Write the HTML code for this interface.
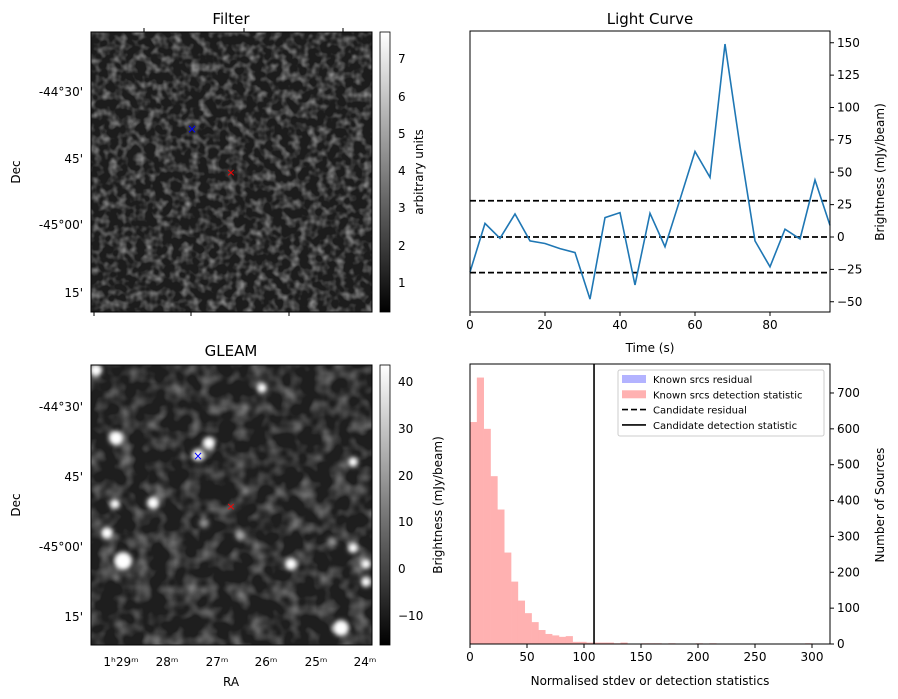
<!DOCTYPE html>
<html><head><meta charset="utf-8"><style>
body{margin:0;background:#fff;}
svg{display:block;font-family:"DejaVu Sans","Liberation Sans",sans-serif;}
</style></head><body>
<svg id="fig" width="898" height="699" viewBox="0 0 898 699">
<defs>
<filter id="noise1" x="0" y="0" width="100%" height="100%">
<feTurbulence type="fractalNoise" baseFrequency="0.11" numOctaves="2" seed="3"/>
<feColorMatrix type="matrix" values="0 0 0 0 1  0 0 0 0 1  0 0 0 0 1  1.0 0 0 0 -0.42"/>
</filter>
<filter id="noise2" x="0" y="0" width="100%" height="100%">
<feTurbulence type="fractalNoise" baseFrequency="0.06" numOctaves="2" seed="8"/>
<feColorMatrix type="matrix" values="0 0 0 0 1  0 0 0 0 1  0 0 0 0 1  0.85 0 0 0 -0.36"/>
</filter>
<filter id="blur"><feGaussianBlur stdDeviation="2.5"/></filter>
<linearGradient id="gray" x1="0" y1="1" x2="0" y2="0"><stop offset="0" stop-color="#000"/><stop offset="1" stop-color="#fff"/></linearGradient>
<clipPath id="c2"><rect x="91" y="365" width="281" height="280"/></clipPath>
</defs>

<g>
<text x="231" y="24" font-size="15" text-anchor="middle">Filter</text>
<rect x="91" y="32" width="281" height="280" fill="#1c1c1c"/>
<rect x="91" y="32" width="281" height="280" filter="url(#noise1)"/>
<rect x="91" y="32" width="281" height="280" fill="none" stroke="#000"/>
<g stroke="#000"><line x1="144" x2="144" y1="28" y2="32"/><line x1="244" x2="244" y1="28" y2="32"/><line x1="343" x2="343" y1="28" y2="32"/><line x1="94" x2="94" y1="312" y2="316"/><line x1="191" x2="191" y1="312" y2="316"/><line x1="289" x2="289" y1="312" y2="316"/></g>
<text x="192" y="133" font-size="12" fill="#00f" text-anchor="middle">×</text>
<text x="231" y="176" font-size="11" fill="#f00" text-anchor="middle">×</text>
<g font-size="12" text-anchor="end">
<text x="83" y="96">-44°30'</text><text x="83" y="163">45'</text><text x="83" y="229">-45°00'</text><text x="83" y="297">15'</text>
</g>
<text transform="translate(20,172) rotate(-90)" font-size="12" text-anchor="middle">Dec</text>
<rect x="380" y="32" width="10" height="280" fill="url(#gray)" stroke="#000" stroke-width="0.8"/>
<g font-size="12">
<text x="398" y="63">7</text><text x="398" y="101">6</text><text x="398" y="138">5</text><text x="398" y="175">4</text><text x="398" y="212">3</text><text x="398" y="250">2</text><text x="398" y="287">1</text>
</g>
<text transform="translate(423,172) rotate(-90)" font-size="12" text-anchor="middle">arbitrary units</text>
</g>

<g>
<text x="231" y="356" font-size="15" text-anchor="middle">GLEAM</text>
<rect x="91" y="365" width="281" height="280" fill="#1e1e1e"/>
<rect x="91" y="365" width="281" height="280" filter="url(#noise2)"/>
<g clip-path="url(#c2)" filter="url(#blur)" fill="#fff">
<circle cx="116" cy="438" r="7"/><circle cx="209" cy="443" r="6"/><circle cx="198" cy="455" r="6"/>
<circle cx="123" cy="561" r="9"/><circle cx="107" cy="533" r="6"/><circle cx="115" cy="504" r="5"/>
<circle cx="153" cy="503" r="6"/><circle cx="291" cy="564" r="6"/><circle cx="353" cy="462" r="5"/>
<circle cx="353" cy="548" r="5"/><circle cx="366" cy="564" r="5"/><circle cx="366" cy="582" r="5"/>
<circle cx="341" cy="628" r="8"/><circle cx="262" cy="388" r="5"/><circle cx="96" cy="370" r="6"/>
<circle cx="204" cy="523" r="5" opacity="0.5"/><circle cx="240" cy="535" r="5" opacity="0.5"/><circle cx="332" cy="542" r="5" opacity="0.5"/>
</g>
<rect x="91" y="365" width="281" height="280" fill="none" stroke="#000"/>
<text x="198" y="460" font-size="12" fill="#00f" text-anchor="middle">×</text>
<text x="231" y="510" font-size="11" fill="#f00" text-anchor="middle">×</text>
<g font-size="12" text-anchor="end">
<text x="83" y="411">-44°30'</text><text x="83" y="481">45'</text><text x="83" y="551">-45°00'</text><text x="83" y="621">15'</text>
</g>
<text transform="translate(20,505) rotate(-90)" font-size="12" text-anchor="middle">Dec</text>
<g font-size="12" text-anchor="middle">
<text x="121" y="666">1ʰ29ᵐ</text><text x="167" y="666">28ᵐ</text><text x="217" y="666">27ᵐ</text><text x="266" y="666">26ᵐ</text><text x="316" y="666">25ᵐ</text><text x="365" y="666">24ᵐ</text>
</g>
<text x="231" y="686" font-size="12" text-anchor="middle">RA</text>
<rect x="380" y="365" width="10" height="280" fill="url(#gray)" stroke="#000" stroke-width="0.8"/>
<g font-size="12">
<text x="398" y="386">40</text><text x="398" y="433">30</text><text x="398" y="480">20</text><text x="398" y="526">10</text><text x="398" y="573">0</text><text x="398" y="620">−10</text>
</g>
<text transform="translate(442,505) rotate(-90)" font-size="12" text-anchor="middle">Brightness (mJy/beam)</text>
</g>

<g id="lc"></g>
<g id="hist"></g>
</svg>
<script>
const NS='http://www.w3.org/2000/svg';
function mk(parent,tag,attrs,text){const e=document.createElementNS(NS,tag);for(const k in attrs)e.setAttribute(k,attrs[k]);if(text!==undefined)e.textContent=text;parent.appendChild(e);return e;}

const lcTimes=[0,4,8,12,16,20,24,28,32,36,40,44,48,52,56,60,64,68,72,76,80,84,88,92,96];
const lcFlux=[-27,10.5,-1,17.8,-3,-5,-9,-12,-48,15,18.8,-37,18.3,-7.5,29,66,46,149,70,-3,-23,6,-1.5,44,9];
const lcLevels=[28,0,-27.5];
const lcYTicks=[-50,-25,0,25,50,75,100,125,150];
const lcXTicks=[0,20,40,60,80];

const histBinWidth=6;
const histStarts=[0,6,12,18,24,30,36,42,48,54,60,66,72,78,84,90,96,102,108,114,120,126,132,150,156,162,174,198,210,294];
const histCounts=[619,743,600,468,375,255,174,121,86,61,39,28,24,20,22,6,6,4,4,4,4,2,4,2,2,2,2,2,2,2];
const candidateStat=[108.8];
const histYTicks=[0,100,200,300,400,500,600,700];
const histXTicks=[0,50,100,150,200,250,300];

(function(){
const g=document.getElementById('lc');
const L=470,R=830,T=31,B=312;
const x=t=>L+(t-0)/(96-0)*(R-L);
const y=v=>237-v*1.295;
const ti=mk(g,'text',{x:650,y:24,'font-size':15,'text-anchor':'middle'},'Light Curve');


lcLevels.forEach(v=>{
 const l=mk(g,'line',{x1:L,x2:R,y1:y(v),y2:y(v),stroke:'#000','stroke-width':1.8,'stroke-dasharray':'6,3'});
 
 
});
const p=mk(g,'polyline',{fill:'none',stroke:'#1f77b4','stroke-width':1.6,points:lcTimes.map((t,i)=>x(t)+','+y(lcFlux[i])).join(' ')});


mk(g,'rect',{x:L,y:T,width:R-L,height:B-T,fill:'none',stroke:'#000'});
lcYTicks.forEach(v=>{
 mk(g,'line',{x1:R,x2:R+4,y1:y(v),y2:y(v),stroke:'#000'});
 const t=mk(g,'text',{x:R+7,y:y(v)+4,'font-size':12},v<0?'−'+(-v):String(v));
 
 
});
lcXTicks.forEach(v=>{
 mk(g,'line',{x1:x(v),x2:x(v),y1:B,y2:B+4,stroke:'#000'});
 const t=mk(g,'text',{x:x(v),y:B+17,'font-size':12,'text-anchor':'middle'},String(v));
 
 
});
const xt=mk(g,'text',{x:650,y:352,'font-size':12,'text-anchor':'middle'},'Time (s)');


const yt=mk(g,'text',{transform:'translate(884,172) rotate(-90)','font-size':12,'text-anchor':'middle'},'Brightness (mJy/beam)');


})();

(function(){
const g=document.getElementById('hist');
const L=470,R=830,T=364,B=644;
const x=v=>L+v*1.14;
const y=c=>B-c*0.3586;
histStarts.forEach((s,i)=>{
 const r=mk(g,'rect',{x:x(s),y:y(histCounts[i]),width:x(s+histBinWidth)-x(s)+0.3,height:B-y(histCounts[i]),fill:'#ffb1b1'});
 
 
});
candidateStat.forEach(v=>{
 const l=mk(g,'line',{x1:x(v),x2:x(v),y1:T,y2:B,stroke:'#000','stroke-width':1.6});
 
 
});
mk(g,'rect',{x:L,y:T,width:R-L,height:B-T,fill:'none',stroke:'#000'});
histYTicks.forEach(v=>{
 mk(g,'line',{x1:R,x2:R+4,y1:y(v),y2:y(v),stroke:'#000'});
 const t=mk(g,'text',{x:R+7,y:y(v)+4,'font-size':12},String(v));
 
 
});
histXTicks.forEach(v=>{
 mk(g,'line',{x1:x(v),x2:x(v),y1:B,y2:B+4,stroke:'#000'});
 const t=mk(g,'text',{x:x(v),y:B+17,'font-size':12,'text-anchor':'middle'},String(v));
 
 
});
const xt=mk(g,'text',{x:650,y:685,'font-size':12,'text-anchor':'middle'},'Normalised stdev or detection statistics');


const yt=mk(g,'text',{transform:'translate(884,505) rotate(-90)','font-size':12,'text-anchor':'middle'},'Number of Sources');


const lg=mk(g,'g',{});


mk(lg,'rect',{x:618,y:370,width:206,height:66,fill:'#fff',stroke:'#ccc',rx:2});
const items=[['Known srcs residual','patch','#b3b3ff'],['Known srcs detection statistic','patch','#ffb1b1'],['Candidate residual','dash','#000'],['Candidate detection statistic','line','#000']];
items.forEach((it,i)=>{
 const yy=379+i*15.3;
 if(it[1]==='patch') mk(lg,'rect',{x:622,y:yy-4,width:24,height:8,fill:it[2]});
 else mk(lg,'line',{x1:622,x2:646,y1:yy,y2:yy,stroke:'#000','stroke-width':1.6,'stroke-dasharray':it[1]==='dash'?'6,3':'none'});
 const t=mk(lg,'text',{x:653,y:yy+4,'font-size':10},it[0]);
 
 
});
})();
</script>
</body></html>
